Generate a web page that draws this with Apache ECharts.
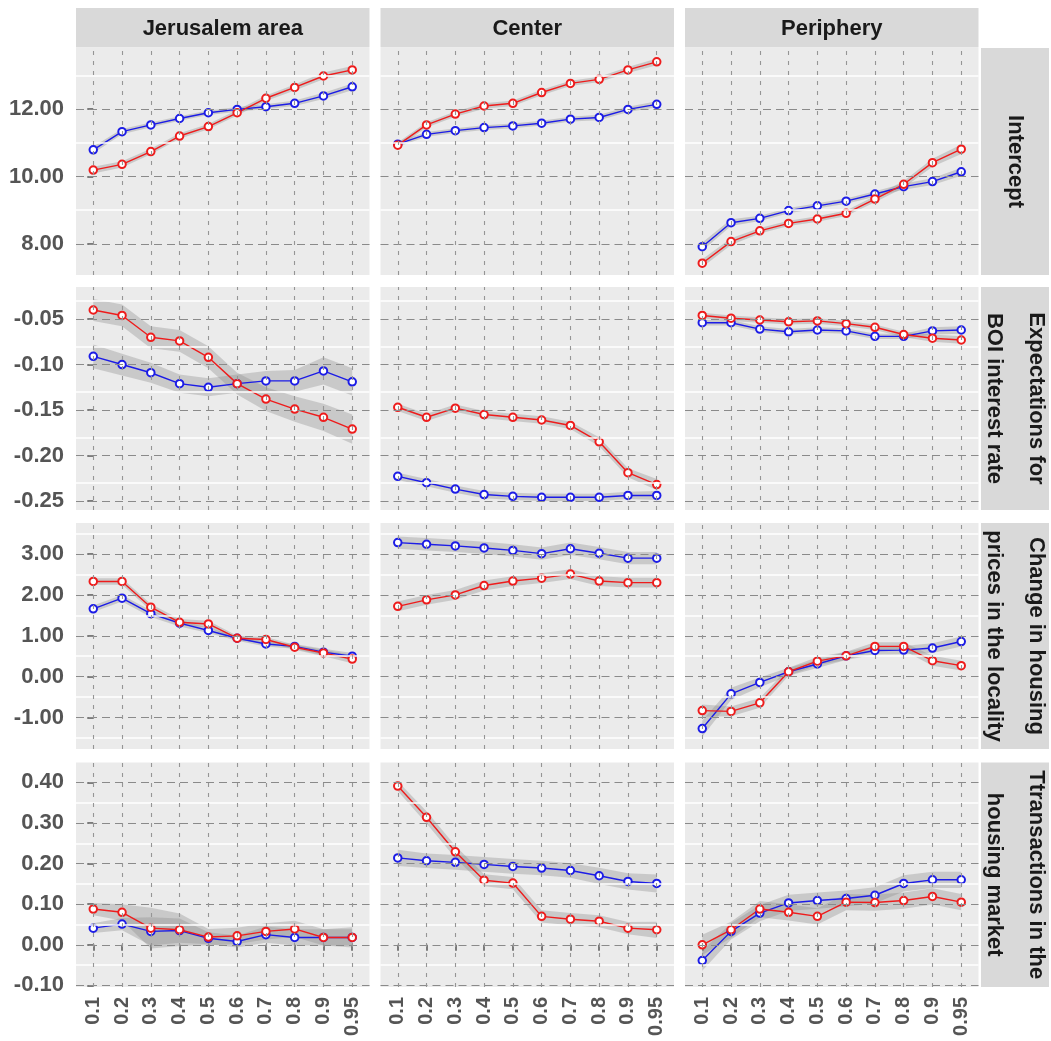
<!DOCTYPE html>
<html>
<head>
<meta charset="utf-8">
<script src="https://cdn.jsdelivr.net/npm/echarts@6/dist/echarts.min.js"></script>
<style>
html, body { margin: 0; padding: 0; background: #fff; }
#chart { width: 1051px; height: 1041px; }
</style>
</head>
<body>
<div id="chart"></div>
<script>
// quantile regression coefficients, red / blue model, grey = confidence band half width
const quantiles = ['0.1', '0.2', '0.3', '0.4', '0.5', '0.6', '0.7', '0.8', '0.9', '0.95'];
const regions = ['Jerusalem area', 'Center', 'Periphery'];
const variables = ['Intercept', 'Expectations for\nBOI interest rate', 'Change in housing\nprices in the locality', 'Ttransactions in the\nhousing market'];

const interceptRed = [
    [10.19, 10.36, 10.74, 11.20, 11.48, 11.89, 12.32, 12.64, 12.98, 13.16],
    [10.93, 11.53, 11.85, 12.09, 12.17, 12.49, 12.76, 12.88, 13.16, 13.40],
    [7.43, 8.07, 8.39, 8.61, 8.74, 8.91, 9.33, 9.77, 10.41, 10.81]
];
const interceptBlue = [
    [10.79, 11.33, 11.53, 11.72, 11.89, 11.99, 12.07, 12.17, 12.39, 12.66],
    [10.96, 11.25, 11.36, 11.45, 11.50, 11.58, 11.70, 11.75, 11.99, 12.14],
    [7.92, 8.63, 8.76, 8.99, 9.13, 9.27, 9.48, 9.70, 9.85, 10.14]
];
const boiRed = [
    [-0.040, -0.046, -0.070, -0.074, -0.092, -0.121, -0.138, -0.149, -0.158, -0.171],
    [-0.147, -0.158, -0.148, -0.155, -0.158, -0.161, -0.167, -0.185, -0.219, -0.232],
    [-0.046, -0.049, -0.051, -0.053, -0.052, -0.055, -0.059, -0.067, -0.071, -0.073]
];
const boiBlue = [
    [-0.091, -0.100, -0.109, -0.121, -0.125, -0.121, -0.118, -0.118, -0.107, -0.119],
    [-0.223, -0.230, -0.237, -0.243, -0.245, -0.246, -0.246, -0.246, -0.244, -0.244],
    [-0.054, -0.054, -0.061, -0.064, -0.062, -0.063, -0.069, -0.069, -0.063, -0.062]
];
const pricesRed = [
    [2.33, 2.33, 1.70, 1.33, 1.29, 0.94, 0.91, 0.72, 0.58, 0.43],
    [1.72, 1.88, 2.00, 2.23, 2.34, 2.41, 2.51, 2.34, 2.30, 2.30],
    [-0.83, -0.85, -0.64, 0.12, 0.38, 0.51, 0.74, 0.74, 0.39, 0.27]
];
const pricesBlue = [
    [1.66, 1.92, 1.54, 1.31, 1.13, 0.94, 0.80, 0.74, 0.60, 0.50],
    [3.28, 3.24, 3.20, 3.15, 3.09, 3.01, 3.13, 3.02, 2.90, 2.90],
    [-1.27, -0.42, -0.14, 0.12, 0.31, 0.51, 0.64, 0.65, 0.70, 0.86]
];
const transRed = [
    [0.088, 0.080, 0.041, 0.037, 0.019, 0.022, 0.033, 0.039, 0.018, 0.018],
    [0.391, 0.314, 0.229, 0.159, 0.152, 0.070, 0.063, 0.058, 0.041, 0.037],
    [0.000, 0.037, 0.088, 0.080, 0.070, 0.105, 0.104, 0.109, 0.119, 0.105]
];
const transBlue = [
    [0.041, 0.051, 0.033, 0.035, 0.016, 0.008, 0.025, 0.018, 0.018, 0.018],
    [0.214, 0.207, 0.203, 0.198, 0.193, 0.189, 0.183, 0.170, 0.156, 0.151],
    [-0.039, 0.033, 0.078, 0.103, 0.109, 0.114, 0.122, 0.151, 0.160, 0.160]
];

// band half widths
const interceptRedSe = [
    [0.10, 0.09, 0.08, 0.08, 0.08, 0.08, 0.08, 0.09, 0.10, 0.12],
    [0.08, 0.08, 0.08, 0.08, 0.08, 0.08, 0.08, 0.08, 0.09, 0.10],
    [0.12, 0.10, 0.08, 0.08, 0.08, 0.08, 0.09, 0.10, 0.12, 0.14]
];
const interceptBlueSe = [
    [0.10, 0.08, 0.07, 0.07, 0.07, 0.07, 0.07, 0.08, 0.09, 0.10],
    [0.08, 0.07, 0.07, 0.07, 0.07, 0.07, 0.07, 0.08, 0.08, 0.09],
    [0.12, 0.10, 0.08, 0.08, 0.08, 0.08, 0.08, 0.09, 0.10, 0.12]
];
const boiRedSe = [
    [0.012, 0.012, 0.012, 0.012, 0.012, 0.012, 0.013, 0.014, 0.015, 0.016],
    [0.004, 0.004, 0.004, 0.004, 0.004, 0.004, 0.004, 0.005, 0.005, 0.006],
    [0.003, 0.003, 0.003, 0.003, 0.003, 0.003, 0.003, 0.003, 0.004, 0.004]
];
const boiBlueSe = [
    [0.013, 0.012, 0.011, 0.010, 0.010, 0.010, 0.011, 0.012, 0.015, 0.015],
    [0.004, 0.004, 0.004, 0.004, 0.004, 0.004, 0.004, 0.004, 0.004, 0.005],
    [0.003, 0.003, 0.003, 0.003, 0.003, 0.003, 0.003, 0.003, 0.004, 0.004]
];
const pricesRedSe = [
    [0.08, 0.08, 0.08, 0.08, 0.08, 0.06, 0.06, 0.06, 0.08, 0.10],
    [0.12, 0.12, 0.12, 0.12, 0.12, 0.12, 0.12, 0.12, 0.12, 0.12],
    [0.15, 0.12, 0.12, 0.10, 0.10, 0.10, 0.10, 0.10, 0.12, 0.12]
];
const pricesBlueSe = [
    [0.08, 0.08, 0.08, 0.08, 0.06, 0.06, 0.06, 0.06, 0.08, 0.08],
    [0.15, 0.15, 0.15, 0.15, 0.15, 0.15, 0.15, 0.15, 0.15, 0.15],
    [0.20, 0.15, 0.12, 0.10, 0.10, 0.10, 0.10, 0.10, 0.12, 0.12]
];
const transRedSe = [
    [0.015, 0.020, 0.050, 0.040, 0.020, 0.020, 0.020, 0.020, 0.020, 0.025],
    [0.012, 0.015, 0.015, 0.015, 0.015, 0.015, 0.015, 0.015, 0.015, 0.020],
    [0.025, 0.020, 0.020, 0.020, 0.020, 0.020, 0.020, 0.020, 0.020, 0.020]
];
const transBlueSe = [
    [0.012, 0.015, 0.035, 0.030, 0.015, 0.015, 0.020, 0.020, 0.020, 0.020],
    [0.020, 0.018, 0.018, 0.018, 0.018, 0.018, 0.018, 0.020, 0.020, 0.022],
    [0.025, 0.020, 0.020, 0.020, 0.020, 0.020, 0.020, 0.020, 0.020, 0.020]
];

// y axis per row (free scales)
const yMin = [7.08, -0.26, -1.77, -0.104];
const yMax = [13.81, -0.0147, 3.76, 0.449];
const yTicks = [
    [8, 10, 12],
    [-0.25, -0.20, -0.15, -0.10, -0.05],
    [-1, 0, 1, 2, 3],
    [-0.1, 0, 0.1, 0.2, 0.3, 0.4]
];

const redRows = [interceptRed, boiRed, pricesRed, transRed];
const blueRows = [interceptBlue, boiBlue, pricesBlue, transBlue];
const redSeRows = [interceptRedSe, boiRedSe, pricesRedSe, transRedSe];
const blueSeRows = [interceptBlueSe, boiBlueSe, pricesBlueSe, transBlueSe];

const RED = '#ee1c1c';
const BLUE = '#1c1ce6';
const BAND = 'rgba(140,140,140,0.36)';
const FONT = '"Liberation Sans", Arial, sans-serif';

const colLeft = [76, 380.5, 685];
const colW = 293.5;
const rowTop = [48, 287, 523, 762.5];
const rowH = [227, 223, 226, 224.5];
const stripX = 981, stripW = 68;

let chart = echarts.init(document.getElementById('chart'));
let grids = [], xAxes = [], yAxes = [], series = [];
let xIdx = quantiles.map(function (q, i) { return i; });

function minorLines(ticks, min, max) {
    let step = ticks[1] - ticks[0];
    let out = [];
    for (let i = -1; i < ticks.length; i++) {
        let base = i < 0 ? ticks[0] - step : ticks[i];
        let v = base + step / 2;
        if (v > min && v < max) out.push(v);
    }
    return out;
}

function bandSeries(k, mid, se) {
    return {
        type: 'custom',
        xAxisIndex: k,
        yAxisIndex: k,
        z: 2,
        silent: true,
        data: mid.map(function (v, i) { return [i, v]; }),
        renderItem: function (params, api) {
            if (params.dataIndex !== 0) return null;
            let pts = [];
            for (let i = 0; i < mid.length; i++) pts.push(api.coord([i, mid[i] + se[i]]));
            for (let i = mid.length - 1; i >= 0; i--) pts.push(api.coord([i, mid[i] - se[i]]));
            return {type: 'polygon', shape: {points: pts}, style: {fill: BAND}};
        }
    };
}

function lineSeries(k, vals, color) {
    return {
        type: 'line',
        xAxisIndex: k,
        yAxisIndex: k,
        z: 3,
        data: vals.map(function (v, i) { return [i, v]; }),
        symbol: 'emptyCircle',
        symbolSize: 7.5,
        showAllSymbol: true,
        lineStyle: {color: color, width: 1.4},
        itemStyle: {color: color, borderColor: color, borderWidth: 1.3},
        emphasis: {disabled: true}
    };
}

for (let r = 0; r < 4; r++) {
    for (let c = 0; c < 3; c++) {
        let k = r * 3 + c;
        grids.push({
            left: colLeft[c], top: rowTop[r], width: colW, height: rowH[r],
            show: true, backgroundColor: '#ebebeb', borderWidth: 0
        });
        xAxes.push({
            gridIndex: k, type: 'value', min: -0.6, max: 9.6,
            axisLine: {show: false},
            splitLine: {show: false},
            axisTick: {show: r === 3, customValues: xIdx, length: 6, lineStyle: {color: '#555', width: 1.5}},
            axisLabel: {
                show: r === 3, customValues: xIdx, rotate: 90, margin: 10,
                formatter: function (v) { return quantiles[Math.round(v)]; },
                fontFamily: FONT, fontWeight: 'bold', fontSize: 20, color: '#555'
            }
        });
        yAxes.push({
            gridIndex: k, type: 'value', min: yMin[r], max: yMax[r],
            axisLine: {show: false},
            splitLine: {show: false},
            axisTick: {show: c === 0, customValues: yTicks[r], length: 6, lineStyle: {color: '#555', width: 1.5}},
            axisLabel: {
                show: c === 0, customValues: yTicks[r], margin: 12,
                formatter: function (v) { return v.toFixed(2); },
                fontFamily: FONT, fontWeight: 'bold', fontSize: 22, color: '#555'
            }
        });

        // panel grid: dashed major lines, white minor lines
        let gridLines = [];
        minorLines(yTicks[r], yMin[r], yMax[r]).forEach(function (v) {
            gridLines.push({yAxis: v, lineStyle: {color: '#ffffff', width: 1.6, type: 'solid'}});
        });
        yTicks[r].forEach(function (v) {
            gridLines.push({yAxis: v, lineStyle: {color: '#8a8a8a', width: 1.2, type: [8, 5]}});
        });
        xIdx.forEach(function (v) {
            gridLines.push({xAxis: v, lineStyle: {color: '#959595', width: 1.1, type: [4, 6]}});
        });
        series.push({
            type: 'line', xAxisIndex: k, yAxisIndex: k, z: 1, silent: true,
            data: blueRows[r][c].map(function (v, i) { return [i, v]; }),
            showSymbol: false,
            lineStyle: {opacity: 0},
            markLine: {
                silent: true, animation: false,
                symbol: ['none', 'none'],
                label: {show: false},
                emphasis: {disabled: true},
                data: gridLines
            }
        });

        series.push(bandSeries(k, redRows[r][c], redSeRows[r][c]));
        series.push(bandSeries(k, blueRows[r][c], blueSeRows[r][c]));
        series.push(lineSeries(k, blueRows[r][c], BLUE));
        series.push(lineSeries(k, redRows[r][c], RED));
    }
}

// facet strips
let graphic = [];
regions.forEach(function (name, c) {
    graphic.push({type: 'rect', shape: {x: colLeft[c], y: 8, width: colW, height: 39.5}, style: {fill: '#d9d9d9'}, silent: true});
    graphic.push({
        type: 'text', x: colLeft[c] + colW / 2, y: 29, silent: true,
        style: {text: name, font: 'bold 22px ' + FONT, fill: '#1a1a1a', align: 'center', verticalAlign: 'middle'}
    });
});
variables.forEach(function (name, r) {
    graphic.push({type: 'rect', shape: {x: stripX, y: rowTop[r], width: stripW, height: rowH[r]}, style: {fill: '#d9d9d9'}, silent: true});
    graphic.push({
        type: 'text', x: stripX + stripW / 2, y: rowTop[r] + rowH[r] / 2, rotation: -Math.PI / 2, silent: true,
        style: {text: name, font: 'bold 22px ' + FONT, fill: '#1a1a1a', align: 'center', verticalAlign: 'middle', lineHeight: 42}
    });
});

chart.setOption({
    animation: false,
    backgroundColor: '#ffffff',
    grid: grids,
    xAxis: xAxes,
    yAxis: yAxes,
    series: series,
    graphic: graphic
});
</script>
</body>
</html>
